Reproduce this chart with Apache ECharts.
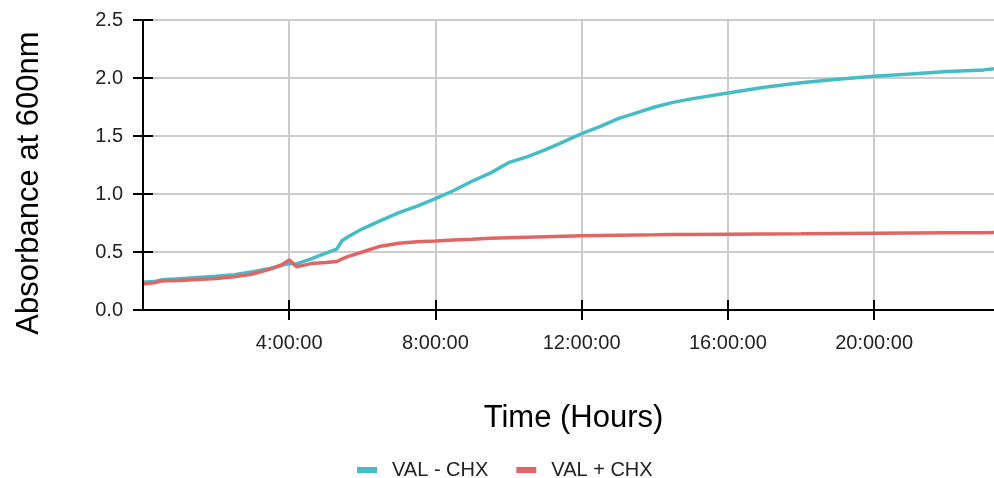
<!DOCTYPE html>
<html>
<head>
<meta charset="utf-8">
<script src="https://cdn.jsdelivr.net/npm/echarts@6/dist/echarts.min.js"></script>
<style>
html,body{margin:0;padding:0;background:#fff;}
#chart{width:994px;height:478px;}
</style>
</head>
<body>
<div id="chart"></div>
<script>
const hours = [0, 0.3, 0.5, 1, 1.5, 2, 2.5, 3, 3.5, 3.8, 4.0, 4.2, 4.6, 5.0, 5.3, 5.45, 5.6, 6.0, 6.5, 7.0, 7.5, 8.0, 8.5, 9.0, 9.5, 10, 10.5, 11, 11.5, 12, 12.5, 13, 13.5, 14, 14.5, 15, 16, 17, 18, 19, 20, 21, 22, 23, 23.28];
const valMinusChx = [0.24, 0.245, 0.26, 0.27, 0.28, 0.29, 0.305, 0.33, 0.36, 0.385, 0.40, 0.397, 0.44, 0.49, 0.525, 0.6, 0.63, 0.70, 0.77, 0.84, 0.895, 0.96, 1.03, 1.11, 1.18, 1.27, 1.32, 1.38, 1.45, 1.52, 1.58, 1.65, 1.70, 1.75, 1.79, 1.82, 1.87, 1.92, 1.96, 1.99, 2.015, 2.035, 2.055, 2.07, 2.08];
const valPlusChx = [0.225, 0.235, 0.25, 0.255, 0.262, 0.272, 0.287, 0.31, 0.355, 0.39, 0.432, 0.372, 0.40, 0.41, 0.418, 0.44, 0.46, 0.50, 0.55, 0.575, 0.588, 0.595, 0.603, 0.61, 0.618, 0.623, 0.628, 0.632, 0.636, 0.64, 0.643, 0.645, 0.647, 0.648, 0.65, 0.651, 0.653, 0.655, 0.657, 0.66, 0.662, 0.664, 0.666, 0.667, 0.668];
const xTickHours = [4, 8, 12, 16, 20];
const seriesNames = ['VAL - CHX', 'VAL + CHX'];
const colors = ['#46BDC6', '#E06666'];

const FONT = 'Liberation Sans, Arial, sans-serif';
const GRID = {left: 143, right: 0, top: 20, bottom: 168, containLabel: false};
const chart = echarts.init(document.getElementById('chart'), null, {renderer: 'canvas'});
const xBase = {type: 'value', min: 0, max: 23.28, position: 'bottom'};
const yBase = {type: 'value', min: 0, max: 2.5, interval: 0.5, position: 'left'};
const tickStyle = {color: '#000', width: 2};
chart.setOption({
  animation: false,
  backgroundColor: '#ffffff',
  color: colors,
  grid: [Object.assign({}, GRID), Object.assign({}, GRID)],
  xAxis: [
    Object.assign({}, xBase, {
      gridIndex: 0,
      name: 'Time (Hours)',
      nameLocation: 'middle',
      nameGap: 93,
      nameTextStyle: {fontFamily: FONT, fontSize: 31, color: '#000', padding: [0, 0, 0, 10]},
      axisLine: {show: true, onZero: false, lineStyle: tickStyle},
      axisTick: {show: true, length: 10, customValues: xTickHours, lineStyle: tickStyle},
      axisLabel: {show: true, customValues: xTickHours, margin: 23, fontFamily: FONT, fontSize: 20, color: '#222',
        formatter: v => v + ':00:00'},
      splitLine: {show: true, lineStyle: {color: '#cccccc', width: 2}}
    }),
    Object.assign({}, xBase, {
      gridIndex: 1, z: 5,
      axisLine: {show: true, onZero: false, lineStyle: tickStyle},
      axisTick: {show: true, inside: true, length: 10, customValues: xTickHours, lineStyle: tickStyle},
      axisLabel: {show: false, customValues: xTickHours},
      splitLine: {show: false}
    })
  ],
  yAxis: [
    Object.assign({}, yBase, {
      gridIndex: 0,
      axisLine: {show: true, onZero: false, lineStyle: tickStyle},
      axisTick: {show: true, length: 10, lineStyle: tickStyle},
      axisLabel: {show: true, margin: 20, fontFamily: FONT, fontSize: 20, color: '#222',
        formatter: v => v.toFixed(1)},
      splitLine: {show: true, lineStyle: {color: '#cccccc', width: 2}}
    }),
    Object.assign({}, yBase, {
      gridIndex: 1, z: 5,
      axisLine: {show: true, onZero: false, lineStyle: tickStyle},
      axisTick: {show: true, inside: true, length: 10, lineStyle: tickStyle},
      axisLabel: {show: false},
      splitLine: {show: false}
    })
  ],
  legend: {
    data: seriesNames,
    left: 352, top: 455,
    itemWidth: 20, itemHeight: 6, itemGap: 28,
    icon: 'rect',
    textStyle: {fontFamily: FONT, fontSize: 20, color: '#222', padding: [0, 0, 0, 10]}
  },
  graphic: [{
    type: 'text',
    x: 29, y: 183,
    rotation: Math.PI / 2,
    style: {text: 'Absorbance at 600nm', font: '31px ' + FONT, fill: '#000',
      textAlign: 'center', textVerticalAlign: 'middle'}
  }],
  series: [
    {name: seriesNames[0], type: 'line', xAxisIndex: 0, yAxisIndex: 0, showSymbol: false,
      lineStyle: {width: 3.5, color: colors[0]}, data: hours.map((h, i) => [h, valMinusChx[i]])},
    {name: seriesNames[1], type: 'line', xAxisIndex: 1, yAxisIndex: 1, showSymbol: false,
      lineStyle: {width: 3.5, color: colors[1]}, data: hours.map((h, i) => [h, valPlusChx[i]])}
  ]
});
</script>
</body>
</html>
